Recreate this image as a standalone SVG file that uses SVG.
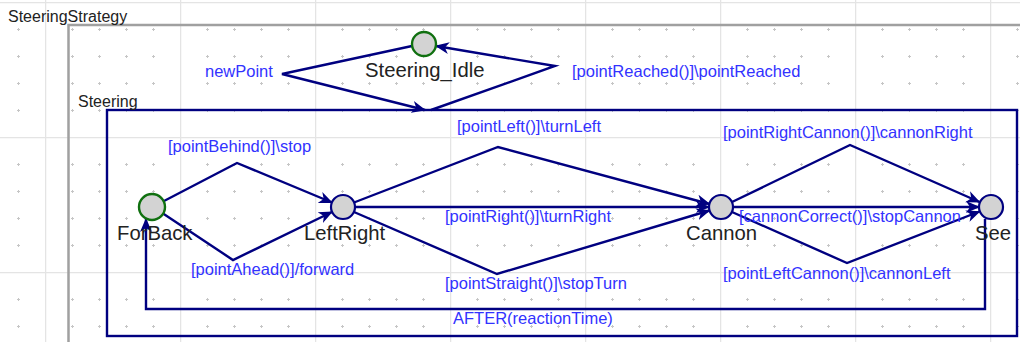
<svg xmlns="http://www.w3.org/2000/svg" width="1020" height="342" viewBox="0 0 1020 342">
<style>
.lbl{font-family:"Liberation Sans",Arial,sans-serif;font-size:16.5px;fill:#3232ff}
.name{font-family:"Liberation Sans",Arial,sans-serif;font-size:20.3px;fill:#222}
.cname{font-family:"Liberation Sans",Arial,sans-serif;font-size:16px;fill:#222}
.tr{fill:none;stroke:#000080;stroke-width:2.4;stroke-linejoin:miter;marker-end:url(#arr)}
.st{fill:#d3d3d3;stroke:#000080;stroke-width:2.2}
.init{fill:#d3d3d3;stroke:#107010;stroke-width:2.4}
</style>
<defs>
<marker id="arr" markerUnits="userSpaceOnUse" markerWidth="16" markerHeight="14" refX="13" refY="6" orient="auto" viewBox="0 0 16 12">
<path d="M0,0 L14,6 L0,12 L4,6 z" fill="#000080"/>
</marker>
<pattern id="grid" patternUnits="userSpaceOnUse" x="45" y="2" width="135" height="135">
<path d="M0.5,0 V135 M0,0.5 H135" stroke="#e4e4e4" stroke-width="1.5" fill="none"/>
<g fill="#c6c6c6">
<path d="M26,27h3v1h-3z M27,26h1v3h-1z M53,27h3v1h-3z M54,26h1v3h-1z M80,27h3v1h-3z M81,26h1v3h-1z M107,27h3v1h-3z M108,26h1v3h-1z"/>
<path d="M26,54h3v1h-3z M27,53h1v3h-1z M53,54h3v1h-3z M54,53h1v3h-1z M80,54h3v1h-3z M81,53h1v3h-1z M107,54h3v1h-3z M108,53h1v3h-1z"/>
<path d="M26,81h3v1h-3z M27,80h1v3h-1z M53,81h3v1h-3z M54,80h1v3h-1z M80,81h3v1h-3z M81,80h1v3h-1z M107,81h3v1h-3z M108,80h1v3h-1z"/>
<path d="M26,108h3v1h-3z M27,107h1v3h-1z M53,108h3v1h-3z M54,107h1v3h-1z M80,108h3v1h-3z M81,107h1v3h-1z M107,108h3v1h-3z M108,107h1v3h-1z"/>
</g>
</pattern>
</defs>
<rect width="1020" height="342" fill="#ffffff"/>
<rect width="1020" height="342" fill="url(#grid)"/>

<g id="SteeringStrategy">
<path d="M1020,25 H68.5 V342" fill="none" stroke="#a0a0a0" stroke-width="2.5"/>
<text class="cname" x="8" y="22">SteeringStrategy</text>
</g>

<g id="Steering">
<rect x="107" y="110" width="910" height="226" fill="none" stroke="#000080" stroke-width="2.4"/>
<text class="cname" x="78" y="107">Steering</text>
</g>

<g id="connectors">
<path class="tr" d="M412,46 L282,74 L425,110"/>
<path class="tr" d="M431,110 L555,66 L436,46"/>
<path class="tr" d="M164,201 L237,163 L332,202.5"/>
<path class="tr" d="M163,213.5 L233,260 L332,212"/>
<path class="tr" d="M354,202.5 L498,147 L709.5,204"/>
<path class="tr" d="M355,207 L709,207"/>
<path class="tr" d="M354,212 L497,274 L709.5,210.5"/>
<path class="tr" d="M732,202 L850,145 L979.5,202"/>
<path class="tr" d="M733,207 L979,207"/>
<path class="tr" d="M732,212 L847,263 L979.5,211.5"/>
<path class="tr" d="M985,219 V309 H146 V219"/>
<text class="lbl" x="205" y="77">newPoint</text>
<text class="lbl" x="572" y="77">[pointReached()]\pointReached</text>
<text class="lbl" x="168" y="152">[pointBehind()]\stop</text>
<text class="lbl" x="191" y="275">[pointAhead()]/forward</text>
<text class="lbl" x="457" y="132">[pointLeft()]\turnLeft</text>
<text class="lbl" x="445" y="222">[pointRight()]\turnRight</text>
<text class="lbl" x="445" y="289">[pointStraight()]\stopTurn</text>
<text class="lbl" x="723" y="138">[pointRightCannon()]\cannonRight</text>
<text class="lbl" x="739" y="222">[cannonCorrect()]\stopCannon</text>
<text class="lbl" x="723" y="279">[pointLeftCannon()]\cannonLeft</text>
<text class="lbl" x="453" y="324">AFTER(reactionTime)</text>
</g>

<g id="Steering_Idle">
<circle class="init" cx="424" cy="44" r="12"/>
<text class="name" x="365" y="77">Steering_Idle</text>
</g>
<g id="ForBack">
<circle class="init" cx="152" cy="207" r="13"/>
<text class="name" x="117" y="240">ForBack</text>
</g>
<g id="LeftRight">
<circle class="st" cx="343" cy="207" r="12"/>
<text class="name" x="304" y="240">LeftRight</text>
</g>
<g id="Cannon">
<circle class="st" cx="721" cy="207" r="12"/>
<text class="name" x="686" y="240">Cannon</text>
</g>
<g id="See">
<circle class="st" cx="991" cy="207" r="12"/>
<text class="name" x="975" y="240">See</text>
</g>
</svg>
